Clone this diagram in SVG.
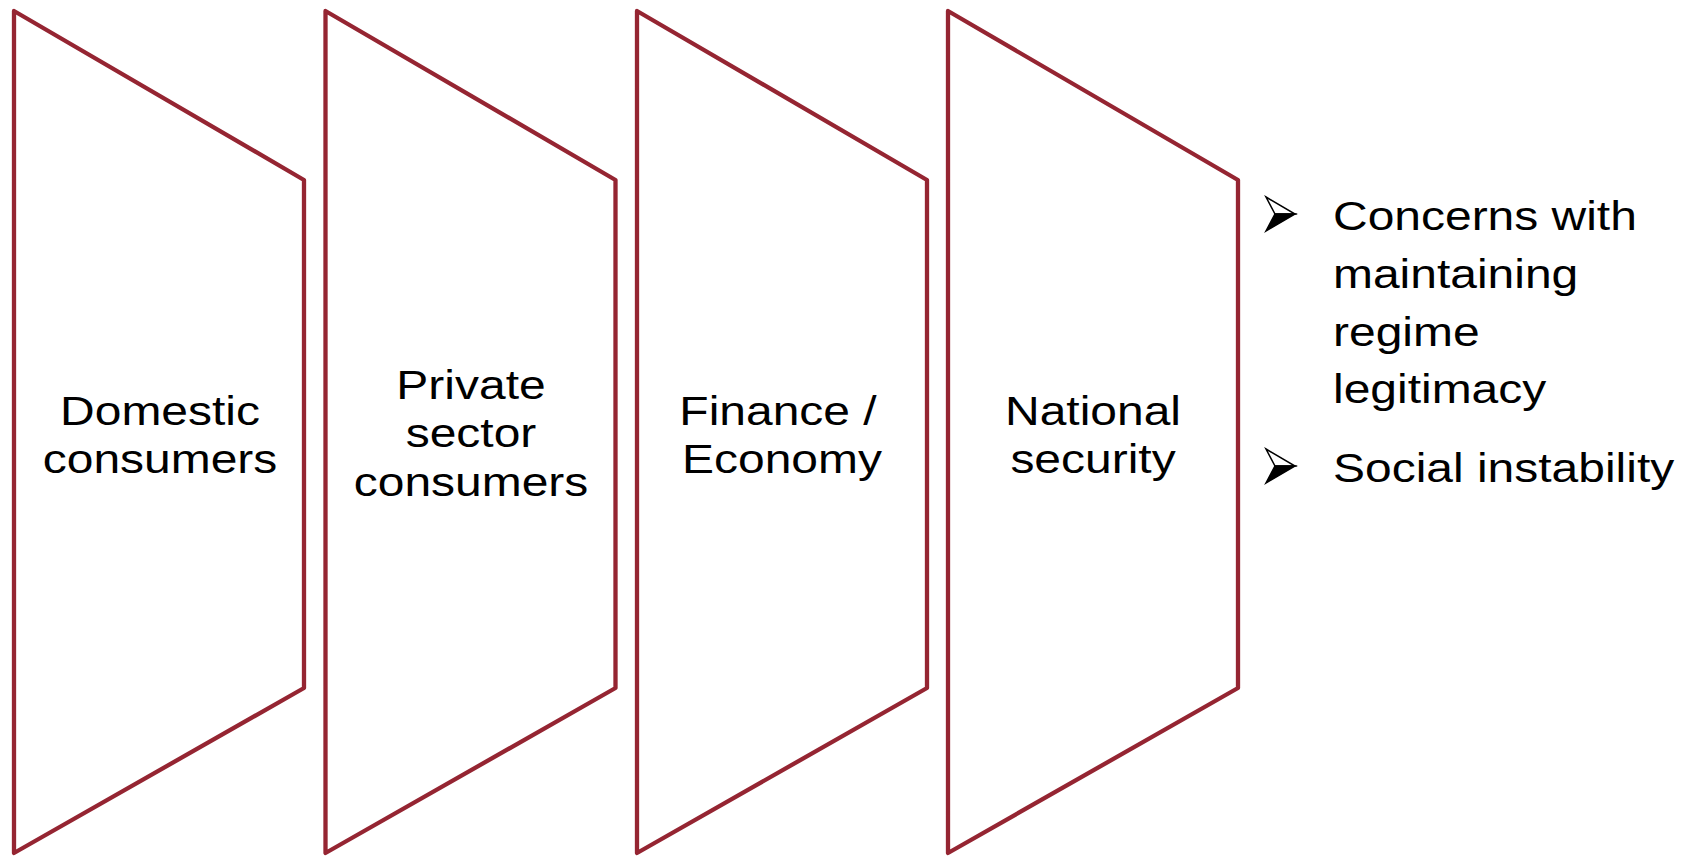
<svg xmlns="http://www.w3.org/2000/svg" width="1689" height="857" viewBox="0 0 1689 857">
<style>
.shape{fill:#ffffff;stroke:#952532;stroke-width:4.3;stroke-linejoin:round}
.lbl{font-family:"Liberation Sans",Arial,sans-serif;font-size:41px;fill:#000000;text-anchor:middle}
.bt{font-family:"Liberation Sans",Arial,sans-serif;font-size:41px;fill:#000000;text-anchor:start}
.aw{fill:#ffffff;stroke:#000000;stroke-width:1.5;stroke-linejoin:miter}
.ab{fill:#000000;stroke:#000000;stroke-width:1.5;stroke-linejoin:miter}
</style>
<rect width="1689" height="857" fill="#ffffff"/>
<g id="node-domestic">
<polygon class="shape" points="14,11 304,180 304,688 14,853"/>
<text class="lbl" transform="translate(160,424.5) scale(1.17,1)">Domestic</text>
<text class="lbl" transform="translate(160,473) scale(1.17,1)">consumers</text>
</g>
<g id="node-private">
<polygon class="shape" points="325.5,11 615.5,180 615.5,688 325.5,853"/>
<text class="lbl" transform="translate(471,398.5) scale(1.17,1)">Private</text>
<text class="lbl" transform="translate(471,447) scale(1.17,1)">sector</text>
<text class="lbl" transform="translate(471,496) scale(1.17,1)">consumers</text>
</g>
<g id="node-finance">
<polygon class="shape" points="637,11 927,180 927,688 637,853"/>
<text class="lbl" transform="translate(778,424.5) scale(1.17,1)">Finance /</text>
<text class="lbl" transform="translate(782,473) scale(1.17,1)">Economy</text>
</g>
<g id="node-security">
<polygon class="shape" points="948,11 1238,180 1238,688 948,853"/>
<text class="lbl" transform="translate(1093,424.5) scale(1.17,1)">National</text>
<text class="lbl" transform="translate(1093,473) scale(1.17,1)">security</text>
</g>
<g id="connectors"></g>
<g id="bullets">
<g id="bullet-1">
<polygon class="aw" points="1266,197 1295,214 1275,214"/>
<polygon class="ab" points="1275,214 1295,214 1266,231"/>
<text class="bt" transform="translate(1333,230) scale(1.17,1)">Concerns with</text>
<text class="bt" transform="translate(1333,288) scale(1.17,1)">maintaining</text>
<text class="bt" transform="translate(1333,346) scale(1.17,1)">regime</text>
<text class="bt" transform="translate(1333,403) scale(1.17,1)">legitimacy</text>
</g>
<g id="bullet-2">
<polygon class="aw" points="1266,449 1295,466 1275,466"/>
<polygon class="ab" points="1275,466 1295,466 1266,483"/>
<text class="bt" transform="translate(1333,482) scale(1.17,1)">Social instability</text>
</g>
</g>
</svg>
